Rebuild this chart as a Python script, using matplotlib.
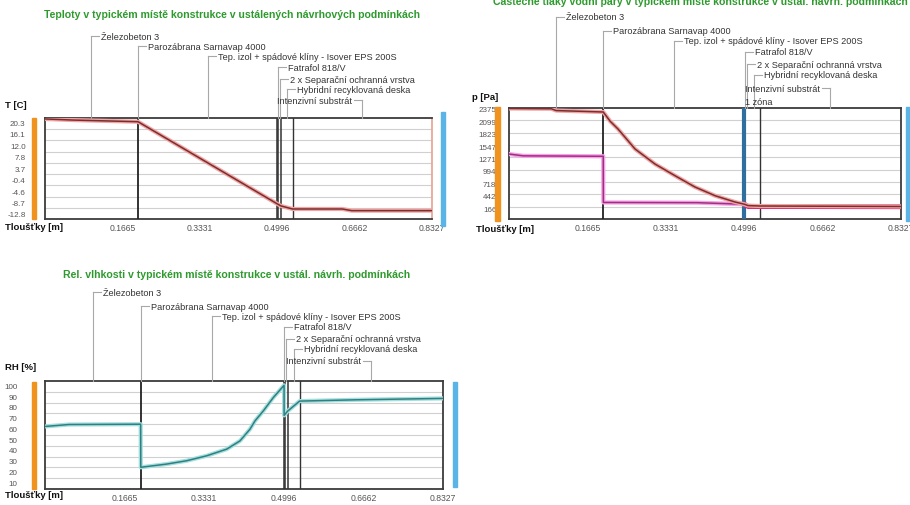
import numpy as np
import matplotlib.pyplot as plt
from matplotlib.patches import Rectangle
from matplotlib.lines import Line2D

plt.rcParams['font.family'] = ['Liberation Sans', 'DejaVu Sans']

W, H = 910, 506

# skladba konstrukce
layer_names = ["Železobeton 3", "Parozábrana Sarnavap 4000",
               "Tep. izol + spádové klíny - Isover EPS 200S", "Fatrafol 818/V",
               "2 x Separační ochranná vrstva", "Hybridní recyklovaná deska",
               "Intenzivní substrát"]
layer_d = [0.2, 0.0002, 0.3, 0.0015, 0.006, 0.025, 0.3]

x_ticks = [0.1665, 0.3331, 0.4996, 0.6662, 0.8327]

# teploty
t_ticks = [20.3, 16.1, 12.0, 7.8, 3.7, -0.4, -4.6, -8.7, -12.8]
t_x = [0.0, 0.06, 0.2002, 0.5002, 0.5077, 0.5327, 0.64, 0.66, 0.8327]
t_val = [21.4, 21.0, 20.4, -9.2, -9.9, -11.0, -11.0, -11.6, -11.6]

# tlaky vodni pary
p_ticks = [2375, 2099, 1823, 1547, 1271, 994, 718, 442, 166]
psat_x = [0.0, 0.09, 0.10, 0.2002, 0.215, 0.2315, 0.2677, 0.310, 0.3526, 0.395,
          0.4376, 0.480, 0.5002, 0.5077, 0.5327, 0.8327]
psat_val = [2386, 2380, 2340, 2308, 2100, 1929, 1483, 1148, 887, 635,
            441, 300, 250, 220, 211, 200]
pv_x = [0.0, 0.03, 0.2002, 0.2004, 0.40, 0.5002, 0.5077, 0.8327]
pv_val = [1370, 1330, 1320, 290, 285, 250, 200, 195]

# relativni vlhkost
rh_ticks = [100, 90, 80, 70, 60, 50, 40, 30, 20, 10]
rh_x = [0.0, 0.05, 0.2002, 0.2004, 0.2546, 0.2964, 0.3383, 0.3802, 0.408,
        0.4289, 0.4394, 0.4568, 0.4777, 0.5002, 0.5003, 0.5077, 0.5327, 0.65, 0.8327]
rh_val = [61.7, 63.5, 63.8, 23.7, 26.7, 29.8, 34.4, 40.6, 48.3,
          59.2, 66.9, 76.2, 88.6, 100.0, 72.0, 76.0, 85.3, 86.5, 87.8]

bounds = np.cumsum([0] + layer_d)
centers = (bounds[:-1] + bounds[1:]) / 2
total = bounds[-1]

fig = plt.figure(figsize=(W / 100, H / 100), dpi=100)

LAB_FS = 6.6


def px_rect(l, t, r, b, color):
    fig.patches.append(Rectangle((l / W, 1 - b / H), (r - l) / W, (b - t) / H,
                                 transform=fig.transFigure, color=color, zorder=5))


def ftext(x, y, s, **kw):
    fig.text(x / W, 1 - y / H, s, **kw)


def make_ax(l, t, r, b, ylim, yticks, ylabels, bands, ypad):
    ax = fig.add_axes([l / W, 1 - b / H, (r - l) / W, (b - t) / H])
    ax.set_xlim(0, total)
    ax.set_ylim(*ylim)
    ax.set_xticks(x_ticks, [f"{v:.4f}" for v in x_ticks])
    ax.set_yticks(yticks, ylabels)
    ax.tick_params(axis='both', length=0, colors='#555')
    ax.tick_params(axis='y', pad=ypad, labelsize=5.8)
    ax.tick_params(axis='x', pad=3, labelsize=6.2)
    for g in np.linspace(ylim[0], ylim[1], bands + 1)[1:-1]:
        ax.axhline(g, color='#d0d0d0', lw=0.8, zorder=0)
    for s in ax.spines.values():
        s.set_color('#3c3c3c')
        s.set_linewidth(1.3)
    return ax


def leaders(ax, rises, right_side):
    top = ax.transAxes.transform((0, 1))[1]
    for name, c, rise, rs in zip(layer_names, centers, rises, right_side):
        xp = ax.transData.transform((c, 0))[0]
        yp = top + rise
        fig.add_artist(Line2D([xp / W, xp / W], [top / H, yp / H],
                              transform=fig.transFigure, color='#a8a8a8', lw=0.8))
        if rs:
            fig.add_artist(Line2D([xp / W, (xp + 8) / W], [yp / H, yp / H],
                                  transform=fig.transFigure, color='#a8a8a8', lw=0.8))
            fig.text((xp + 10) / W, yp / H, name, fontsize=LAB_FS, color='#333',
                     ha='left', va='center')
        else:
            fig.add_artist(Line2D([(xp - 8) / W, xp / W], [yp / H, yp / H],
                                  transform=fig.transFigure, color='#a8a8a8', lw=0.8))
            fig.text((xp - 10) / W, yp / H, name, fontsize=LAB_FS, color='#333',
                     ha='right', va='center')


def layer_lines(ax, blue=False):
    ax.axvline(bounds[1], color='#222', lw=1.3, zorder=3)
    if blue:
        ax.axvline(bounds[3], color='#2f6e9e', lw=3, zorder=3)
    else:
        for b in bounds[3:6]:
            ax.axvline(b, color='#333', lw=1.1, zorder=3)
    ax.axvline(bounds[6], color='#333', lw=1.0, zorder=3)


title_kw = dict(color='#2e9a2e', weight='bold', fontsize=7.6, ha='center', va='center')
lab_kw = dict(color='#111', weight='bold', fontsize=6.8, ha='left', va='center')

# --- teploty ---
ax1 = make_ax(45, 119, 432, 220, (-14.6, 21.74), t_ticks,
              [f"{v:.1f}" for v in t_ticks], 9, 14)
ax1.spines['right'].set_color('#e8a898')
layer_lines(ax1)
ax1.plot(t_x, t_val, color='#f2a5a5', lw=3, zorder=4, solid_capstyle='butt')
ax1.plot(t_x, t_val, color='#7a2e2e', lw=1.1, zorder=4)
leaders(ax1, [82, 72, 62, 51, 39, 29, 18], [1, 1, 1, 1, 1, 1, 0])
px_rect(32, 119, 36, 220, '#f0921e')
px_rect(441, 113, 445, 227, '#5ab4e6')
ftext(232, 15, "Teploty v typickém místě konstrukce v ustálených návrhových podmínkách", **title_kw)
ftext(5, 105, "T [C]", **lab_kw)
ftext(5, 228, "Tloušťky [m]", **lab_kw)

# --- tlaky ---
ax2 = make_ax(509, 109, 901, 220, (-79, 2397), p_ticks,
              [str(v) for v in p_ticks], 9, 9)
layer_lines(ax2, blue=True)
ax2.plot(pv_x, pv_val, color='#f5a0e8', lw=3, zorder=4)
ax2.plot(pv_x, pv_val, color='#a0307e', lw=1.1, zorder=4)
ax2.plot(pv_x[5:], pv_val[5:], color='#d8206e', lw=3.5, zorder=4)
ax2.plot(psat_x, psat_val, color='#f2a5a5', lw=3, zorder=4)
ax2.plot(psat_x, psat_val, color='#7a2e2e', lw=1.1, zorder=4)
leaders(ax2, [91, 77, 67, 56, 44, 33, 20], [1, 1, 1, 1, 1, 1, 0])
zx = ax2.transData.transform((bounds[3], 0))[0]
ftext(zx + 1, 103, "1 zóna", fontsize=LAB_FS, color='#333', ha='left', va='center')
px_rect(495, 108, 500, 222, '#f0921e')
px_rect(906, 108, 910, 222, '#5ab4e6')
ftext(700, 1, "Částečné tlaky vodní páry v typickém místě konstrukce v ustál. návrh. podmínkách", **title_kw)
ftext(472, 98, "p [Pa]", **lab_kw)
ftext(476, 229, "Tloušťky [m]", **lab_kw)

# --- vlhkosti ---
ax3 = make_ax(45, 382, 443, 490, (3.5, 104), rh_ticks,
              [str(v) for v in rh_ticks], 10, 20)
layer_lines(ax3)
ax3.plot(rh_x, rh_val, color='#a5dede', lw=3, zorder=4)
ax3.plot(rh_x, rh_val, color='#2f8080', lw=1.1, zorder=4)
leaders(ax3, [89, 75, 65, 54, 42, 32, 20], [1, 1, 1, 1, 1, 1, 0])
px_rect(32, 383, 36, 490, '#f0921e')
px_rect(453, 383, 457, 488, '#5ab4e6')
ftext(237, 275, "Rel. vlhkosti v typickém místě konstrukce v ustál. návrh. podmínkách", **title_kw)
ftext(5, 368, "RH [%]", **lab_kw)
ftext(5, 496, "Tloušťky [m]", **lab_kw)

fig.savefig("out.png", dpi=100)
